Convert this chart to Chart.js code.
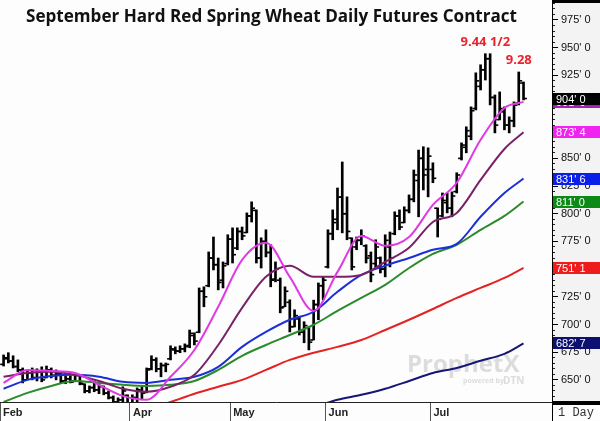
<!DOCTYPE html>
<html>
<head>
<meta charset="utf-8">
<script src="https://cdn.jsdelivr.net/npm/chart.js@4.4.0/dist/chart.umd.min.js"></script>
<style>
  html, body { margin: 0; padding: 0; background: #fff; }
</style>
</head>
<body>
<canvas id="chart" width="600" height="421"></canvas>
<script>
// Sept HRS wheat daily bars, cents/bu, oldest first
const opens = [664, 669, 667, 662, 659, 650, 656, 652, 657, 652,
  659, 654, 655, 649, 651, 649, 654, 646, 640, 643,
  641, 644, 638, 634, 630, 632, 636, 629, 634, 640,
  639, 660, 668, 660, 663, 669, 677, 676, 678, 681,
  690, 693, 730, 735, 760, 754, 740, 755, 777, 769,
  784, 783, 798, 803, 760, 775, 765, 741, 740, 716,
  720, 698, 705, 693, 697, 686, 718, 735, 752, 782,
  795, 815, 800, 778, 770, 776, 771, 762, 755, 760,
  750, 770, 782, 798, 792, 803, 813, 830, 850, 840,
  840, 805, 798, 810, 805, 820, 850, 860, 870, 895,
  915, 930, 940, 905, 885, 892, 880, 884, 900, 918];
const highs = [672.5, 674.5, 671.75, 668, 660.75, 659, 660.75, 660, 661.75, 662.5,
  660.75, 659, 657.25, 653.5, 653.5, 655.5, 654.5, 646.5, 644.5, 649,
  646.5, 644.5, 640, 635.5, 633.75, 643.75, 636.5, 636.5, 642.75, 643.75,
  660.75, 671.75, 670, 665.25, 665.25, 680.75, 679.75, 680.75, 682.5, 695,
  692.5, 733, 734, 765.5, 779, 760, 756.5, 781, 787.25, 787.25,
  788, 800.75, 810.75, 803.5, 778.25, 785.5, 772, 756.5, 742, 734,
  722.25, 713.25, 707, 702.5, 697.75, 722, 737.5, 743, 785.5, 803.5,
  823.25, 846.75, 815.25, 778.25, 779, 785.5, 772, 765.5, 776.5, 761,
  781, 783.5, 801.75, 803.5, 806.25, 817, 839.5, 857.5, 860.5, 859.5,
  846, 805.25, 818.75, 818.75, 819.75, 837, 864, 878.5, 896.5, 927.25,
  934.5, 944.5, 944.5, 907.25, 910, 896.5, 887.5, 901, 928, 919];
const lows = [662.5, 665.25, 660.75, 657.25, 647.25, 650, 650, 649, 648.25, 651.75,
  651.75, 650, 647.25, 646.5, 647.25, 648.25, 645.5, 638.25, 638.25, 639.25,
  637.5, 636.5, 632.75, 628.25, 624.75, 630, 626.5, 624.75, 630, 632,
  638.25, 659, 657.25, 652.75, 657.25, 668, 673.5, 674.5, 675.25, 679,
  681.5, 692.5, 716, 734, 749.25, 731.25, 733, 753.75, 755.5, 767.5,
  776.5, 782.75, 792.5, 755.5, 751, 761, 734, 738.5, 710.5, 716,
  693.25, 697.75, 690.5, 683.5, 677, 686, 704.25, 722.25, 751, 776.5,
  785.5, 782.75, 776.5, 749.25, 767.5, 772, 755.5, 738.5, 751, 746.5,
  743, 752, 781, 785.5, 791.75, 800.75, 810.75, 797.25, 821.5, 815.25,
  828, 779, 797.25, 800.75, 797.25, 818.75, 848.5, 855, 866.75, 893.75,
  911.75, 920.75, 898.25, 873, 884.75, 875.75, 873, 878.5, 898.25, 902.75];
const closes = [670, 667, 662, 659, 650, 656, 652, 657, 650, 659,
  654, 656, 649, 651, 648, 654, 647, 640, 643, 641,
  644, 638, 634, 630, 632, 640, 629, 634, 641, 638,
  659, 668, 660, 663, 664, 678, 676, 678, 680, 692,
  685, 730, 725, 760, 754, 738, 753, 777, 763, 784,
  780, 798, 805, 760, 775, 765, 740, 750, 715, 730,
  698, 708, 693, 699, 684, 718, 735, 740, 782, 792,
  815, 800, 784, 752, 776, 780, 760, 745, 770, 750,
  776, 760, 798, 788, 803, 813, 835, 850, 835, 852,
  832, 795, 812, 805, 816, 835, 862, 875, 893, 920,
  930, 940, 905, 880, 895, 880, 884, 898, 920, 904];

// moving averages, read every 5 sessions
const maIndex = [0, 5, 10, 15, 20, 25, 30, 35, 40, 45, 50, 55, 60, 65, 70, 75, 80, 85, 90, 95, 100, 105, 109];
const maMagenta = [647.25, 659, 658, 656.25, 645.5, 635.5, 632, 652.75, 677, 716, 758.25, 773.75, 743, 712.25, 747.5, 780, 771, 779, 808, 828, 866.75, 895.5, 901];
const maPurple = [652.75, 656.25, 657.25, 654.5, 649, 642, 639.25, 643.75, 654.5, 681.5, 715, 743, 753, 743, 743, 744.75, 756.5, 769.25, 792.5, 800.75, 830.5, 858.5, 873.5];
const maBlue = [642, 650, 653.5, 654.5, 652.75, 648.25, 647.25, 650, 652.75, 661.75, 679.75, 693.25, 704.25, 711.5, 729.5, 744.75, 753, 760, 767.5, 772.75, 797.25, 818.75, 831.75];
const maGreen = [630, 638.25, 644.5, 649, 647.25, 645.5, 644.5, 645.5, 649, 659, 671.75, 681.5, 690.5, 699.75, 712.25, 724, 735.75, 751, 763.75, 772, 785.5, 798, 811];
const maRed = [null, null, null, null, null, null, 624, 630, 637.5, 643.75, 650, 659, 668, 674.5, 679.75, 686, 695, 704.25, 714, 724, 733, 742, 751.125];
const maNavy = [null, null, null, null, null, null, null, null, null, null, null, 617, 621, 625.5, 632, 636.5, 642, 649, 656.25, 660.75, 667.25, 673.5, 682.875];

const monthLabels = ['Feb', 'Apr', 'May', 'Jun', 'Jul'];
const monthStarts = [-0.75, 26.5, 47.5, 67.5, 89.5];

const callouts = [{ text: '9.44 1/2', bar: 101 }, { text: '9.28', bar: 108 }];

const priceMin = 630, priceMax = 993;

// price in cents with eighths, e.g. 831.75 -> "831' 6"
const fmt = v => {
  const w = Math.floor(v + 1e-9);
  return w + "' " + Math.round((v - w) * 8);
};

const last = a => a[a.length - 1];
const tags = [
  { value: last(maMagenta), color: '#a81fb8' },
  { value: last(closes), color: '#000000' },
  { value: last(maPurple), color: '#f024f0' },
  { value: last(maBlue), color: '#0a1fe8' },
  { value: last(maGreen), color: '#0b8a16' },
  { value: last(maRed), color: '#ee1c1c' },
  { value: last(maNavy), color: '#0c1070' },
];

const maLine = (vals, color) => ({
  type: 'line',
  data: maIndex.map((x, k) => ({ x, y: vals[k] })),
  borderColor: color,
  borderWidth: 2,
  pointRadius: 0,
  cubicInterpolationMode: 'monotone',
  fill: false,
  yAxisID: 'y',
});

const tickMarks = (vals, shift) => ({
  type: 'line',
  data: vals.map((v, i) => ({ x: i + shift, y: v })),
  showLine: false,
  pointStyle: 'line',
  pointRadius: 1.5,
  pointBorderWidth: 1.6,
  pointBorderColor: '#000',
  pointBackgroundColor: '#000',
  yAxisID: 'y',
});

// every step-th price between the axis bounds
const stepTicks = step => s => {
  const out = [];
  for (let v = Math.ceil(priceMin / step) * step; v <= priceMax; v += step) out.push({ value: v });
  s.ticks = out;
};

const backdrop = {
  id: 'backdrop',
  beforeDraw(chart) {
    const { ctx, chartArea: a } = chart;
    ctx.save();
    ctx.fillStyle = '#fdfdfd';
    ctx.fillRect(0, 0, chart.width, chart.height);
    ctx.fillStyle = '#f3f3f3';
    ctx.fillRect(a.right, 0, chart.width - a.right, a.bottom);
    ctx.restore();
  },
  beforeDatasetsDraw(chart) {
    // faint ProphetX watermark
    const { ctx } = chart;
    ctx.save();
    ctx.fillStyle = '#dcdcdc';
    ctx.font = 'bold 24px "Open Sans", sans-serif';
    ctx.fillText('ProphetX', 407, 372);
    ctx.font = 'bold 7px "Open Sans", sans-serif';
    ctx.fillText('powered by', 463, 383);
    ctx.font = 'bold 10px "Open Sans", sans-serif';
    ctx.fillText('DTN', 503, 384);
    ctx.restore();
  }
};

const overlay = {
  id: 'overlay',
  afterDraw(chart) {
    const { ctx, chartArea: a } = chart;
    const x = chart.scales.x, y = chart.scales.y;
    ctx.save();

    // title, fitted to its width in the original
    let size = 17;
    ctx.font = 'bold ' + size + 'px "Open Sans", sans-serif';
    const title = 'September Hard Red Spring Wheat Daily Futures Contract';
    size = Math.min(18, size * 491 / ctx.measureText(title).width);
    ctx.font = 'bold ' + size.toFixed(2) + 'px "Open Sans", sans-serif';
    ctx.fillStyle = '#111';
    ctx.textBaseline = 'alphabetic';
    ctx.fillText(title, 26, 22);

    // red price callouts above the highs
    ctx.font = 'bold 13px "Open Sans", sans-serif';
    ctx.fillStyle = '#e8242c';
    ctx.textAlign = 'center';
    callouts.forEach(c => {
      const px = x.getPixelForValue(c.bar);
      const py = y.getPixelForValue(highs[c.bar]);
      ctx.fillText(c.text, px, py - 8);
    });

    // last-value tags on the price axis
    ctx.textAlign = 'left';
    ctx.textBaseline = 'middle';
    ctx.font = '11px "Liberation Sans", Arial, sans-serif';
    tags.forEach(t => {
      const py = Math.round(y.getPixelForValue(t.value));
      ctx.fillStyle = t.color;
      ctx.fillRect(a.right + 1, py - 6, chart.width - a.right - 1, 12);
      ctx.fillStyle = '#fff';
      ctx.fillText(fmt(t.value), a.right + 4, py + 0.5);
    });

    // frame bits around the axis panel
    ctx.fillStyle = '#000';
    ctx.fillRect(a.right, 0, chart.width - a.right, 3);
    ctx.fillRect(a.right, a.bottom - 1, chart.width - a.right, 4);
    ctx.fillRect(a.right, a.bottom, 1, chart.height - a.bottom);

    ctx.fillStyle = '#333';
    ctx.font = '12px "Liberation Mono", monospace';
    ctx.fillText('1 Day', a.right + 6, 413);
    ctx.restore();
  }
};

const noPad = s => { s.paddingTop = 0; s.paddingBottom = 0; s.paddingLeft = 0; s.paddingRight = 0; };

new Chart(document.getElementById('chart'), {
  type: 'line',
  data: {
    datasets: [
      maLine(maMagenta, '#e03ae4'),
      maLine(maPurple, '#7a2268'),
      maLine(maBlue, '#1c2fd6'),
      maLine(maGreen, '#2b8a2b'),
      maLine(maRed, '#e52222'),
      maLine(maNavy, '#141874'),
      {
        type: 'bar',
        data: highs.map((h, i) => ({ x: i, y: [lows[i], h] })),
        backgroundColor: '#000',
        borderWidth: 0,
        barThickness: 2,
        grouped: false,
        yAxisID: 'y',
      },
      tickMarks(opens, -0.4),
      tickMarks(closes, 0.4),
    ]
  },
  options: {
    responsive: false,
    animation: false,
    layout: { padding: 0, autoPadding: false },
    plugins: { legend: { display: false }, tooltip: { enabled: false } },
    scales: {
      x: {
        type: 'linear',
        bounds: 'data',
        offset: false,
        min: -0.75,
        max: 114.97,
        afterBuildTicks: s => { s.ticks = monthStarts.map(v => ({ value: v })); },
        afterFit: s => { s.height = 19; noPad(s); },
        grid: { drawOnChartArea: false, offset: false, tickLength: 19, color: '#555', tickColor: '#555' },
        border: { color: '#222', width: 1 },
        ticks: {
          align: 'start',
          labelOffset: 3,
          padding: -15,
          autoSkip: false,
          maxRotation: 0,
          color: '#222',
          font: { family: '"Liberation Sans", Arial, sans-serif', size: 11, weight: 'bold' },
          callback: (v, i) => monthLabels[i],
        },
      },
      yMinor: {
        type: 'linear',
        position: 'right',
        weight: 0,
        bounds: 'data',
        min: priceMin,
        max: priceMax,
        afterBuildTicks: stepTicks(5),
        afterFit: s => { s.width = 0; noPad(s); },
        grid: { drawOnChartArea: false, tickLength: 3, tickColor: '#222' },
        border: { display: false },
        ticks: { display: false },
      },
      y: {
        type: 'linear',
        position: 'right',
        weight: 1,
        bounds: 'data',
        min: priceMin,
        max: priceMax,
        afterBuildTicks: stepTicks(25),
        afterFit: s => { s.width = 48; noPad(s); },
        grid: { drawOnChartArea: false, tickLength: 6, tickColor: '#000' },
        border: { color: '#000', width: 1 },
        ticks: {
          padding: 3,
          color: '#111',
          font: { family: '"Liberation Sans", Arial, sans-serif', size: 11 },
          callback: v => fmt(v),
        },
      },
    },
  },
  plugins: [backdrop, overlay],
});
</script>
</body>
</html>
